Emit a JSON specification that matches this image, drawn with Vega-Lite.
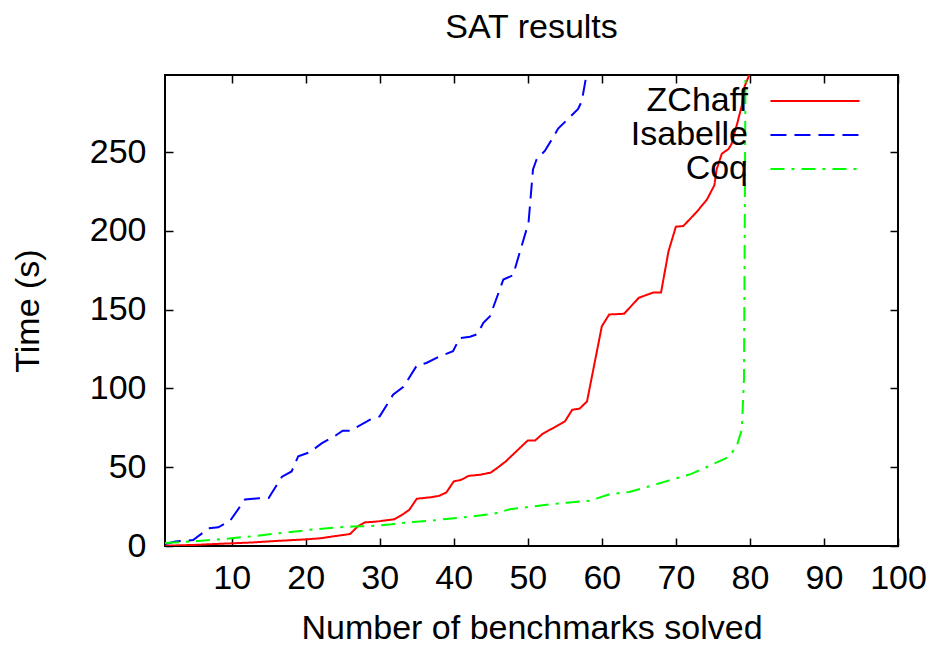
{
  "$schema": "https://vega.github.io/schema/vega-lite/v6.json",
  "width": 733,
  "height": 471,
  "autosize": "none",
  "padding": {"left": 165, "top": 75, "right": 36, "bottom": 99},
  "background": "white",
  "title": {"text": "SAT results", "fontSize": 34, "font": "Liberation Sans", "fontWeight": "normal", "color": "black", "offset": 21, "anchor": "middle"},
  "config": {
    "view": {"stroke": "black", "strokeWidth": 2},
    "axis": {"grid": false, "domain": false, "tickColor": "black", "tickWidth": 1.5, "labelFont": "Liberation Sans", "labelFontSize": 34, "labelColor": "black", "titleFont": "Liberation Sans", "titleFontSize": 34, "titleFontWeight": "normal", "titleColor": "black"}
  },
  "data": {"values": [
    {"solver": "ZChaff", "n": 1, "t": 0.2},
    {"solver": "ZChaff", "n": 5, "t": 0.7},
    {"solver": "ZChaff", "n": 10, "t": 1.7},
    {"solver": "ZChaff", "n": 13, "t": 2.3},
    {"solver": "ZChaff", "n": 16, "t": 3.2},
    {"solver": "ZChaff", "n": 20, "t": 4.2},
    {"solver": "ZChaff", "n": 22, "t": 4.9},
    {"solver": "ZChaff", "n": 24, "t": 6.3},
    {"solver": "ZChaff", "n": 26, "t": 7.6},
    {"solver": "ZChaff", "n": 27, "t": 12.3},
    {"solver": "ZChaff", "n": 28, "t": 15},
    {"solver": "ZChaff", "n": 29.6, "t": 15.5},
    {"solver": "ZChaff", "n": 32, "t": 17},
    {"solver": "ZChaff", "n": 33, "t": 19.7},
    {"solver": "ZChaff", "n": 34, "t": 23},
    {"solver": "ZChaff", "n": 35, "t": 30},
    {"solver": "ZChaff", "n": 37, "t": 31},
    {"solver": "ZChaff", "n": 38, "t": 31.8},
    {"solver": "ZChaff", "n": 39, "t": 34},
    {"solver": "ZChaff", "n": 40, "t": 41},
    {"solver": "ZChaff", "n": 41, "t": 42},
    {"solver": "ZChaff", "n": 42, "t": 44.5},
    {"solver": "ZChaff", "n": 43.5, "t": 45.2},
    {"solver": "ZChaff", "n": 45, "t": 46.6},
    {"solver": "ZChaff", "n": 46, "t": 50},
    {"solver": "ZChaff", "n": 47, "t": 53.6},
    {"solver": "ZChaff", "n": 50, "t": 67},
    {"solver": "ZChaff", "n": 51, "t": 67},
    {"solver": "ZChaff", "n": 52, "t": 71.2},
    {"solver": "ZChaff", "n": 53, "t": 73.8},
    {"solver": "ZChaff", "n": 55, "t": 79},
    {"solver": "ZChaff", "n": 56, "t": 86.5},
    {"solver": "ZChaff", "n": 57, "t": 87.2},
    {"solver": "ZChaff", "n": 58, "t": 91.8},
    {"solver": "ZChaff", "n": 60, "t": 139.5},
    {"solver": "ZChaff", "n": 61, "t": 147},
    {"solver": "ZChaff", "n": 63, "t": 147.4},
    {"solver": "ZChaff", "n": 65, "t": 157.6},
    {"solver": "ZChaff", "n": 67, "t": 161},
    {"solver": "ZChaff", "n": 68, "t": 161},
    {"solver": "ZChaff", "n": 69, "t": 187},
    {"solver": "ZChaff", "n": 70, "t": 202.7},
    {"solver": "ZChaff", "n": 71, "t": 203.1},
    {"solver": "ZChaff", "n": 72.8, "t": 212},
    {"solver": "ZChaff", "n": 74.2, "t": 220},
    {"solver": "ZChaff", "n": 75.2, "t": 229},
    {"solver": "ZChaff", "n": 75.5, "t": 239},
    {"solver": "ZChaff", "n": 76.2, "t": 249},
    {"solver": "ZChaff", "n": 77.1, "t": 252},
    {"solver": "ZChaff", "n": 77.5, "t": 255},
    {"solver": "ZChaff", "n": 78.2, "t": 266.7},
    {"solver": "ZChaff", "n": 78.9, "t": 279.5},
    {"solver": "ZChaff", "n": 79.3, "t": 292},
    {"solver": "ZChaff", "n": 80, "t": 300},
    {"solver": "Isabelle", "n": 1, "t": 1.3},
    {"solver": "Isabelle", "n": 2.4, "t": 2.8},
    {"solver": "Isabelle", "n": 4.8, "t": 3.8},
    {"solver": "Isabelle", "n": 6.9, "t": 11.2},
    {"solver": "Isabelle", "n": 8.2, "t": 11.9},
    {"solver": "Isabelle", "n": 9.8, "t": 16.1},
    {"solver": "Isabelle", "n": 11.8, "t": 29.5},
    {"solver": "Isabelle", "n": 13.7, "t": 30.3},
    {"solver": "Isabelle", "n": 15, "t": 30.5},
    {"solver": "Isabelle", "n": 16.8, "t": 44},
    {"solver": "Isabelle", "n": 18.1, "t": 47.3},
    {"solver": "Isabelle", "n": 19, "t": 57},
    {"solver": "Isabelle", "n": 20.5, "t": 59.4},
    {"solver": "Isabelle", "n": 22.2, "t": 65.3},
    {"solver": "Isabelle", "n": 24, "t": 70},
    {"solver": "Isabelle", "n": 25, "t": 73.2},
    {"solver": "Isabelle", "n": 26, "t": 73.2},
    {"solver": "Isabelle", "n": 28.7, "t": 80.2},
    {"solver": "Isabelle", "n": 30, "t": 82.3},
    {"solver": "Isabelle", "n": 31.8, "t": 96},
    {"solver": "Isabelle", "n": 33.2, "t": 101},
    {"solver": "Isabelle", "n": 35, "t": 114.5},
    {"solver": "Isabelle", "n": 36.3, "t": 116.2},
    {"solver": "Isabelle", "n": 37.9, "t": 120},
    {"solver": "Isabelle", "n": 39.9, "t": 123.6},
    {"solver": "Isabelle", "n": 40.8, "t": 132},
    {"solver": "Isabelle", "n": 42.2, "t": 132.8},
    {"solver": "Isabelle", "n": 43.2, "t": 134.5},
    {"solver": "Isabelle", "n": 44, "t": 141.7},
    {"solver": "Isabelle", "n": 44.9, "t": 145.9},
    {"solver": "Isabelle", "n": 46.7, "t": 169.2},
    {"solver": "Isabelle", "n": 48, "t": 171.8},
    {"solver": "Isabelle", "n": 50.1, "t": 205.3},
    {"solver": "Isabelle", "n": 50.7, "t": 239},
    {"solver": "Isabelle", "n": 51.2, "t": 245.5},
    {"solver": "Isabelle", "n": 52.3, "t": 250.8},
    {"solver": "Isabelle", "n": 53.4, "t": 259.3},
    {"solver": "Isabelle", "n": 54.1, "t": 265},
    {"solver": "Isabelle", "n": 55.4, "t": 271},
    {"solver": "Isabelle", "n": 56.8, "t": 277.4},
    {"solver": "Isabelle", "n": 57.3, "t": 282.6},
    {"solver": "Isabelle", "n": 57.9, "t": 298.5},
    {"solver": "Isabelle", "n": 58.1, "t": 305},
    {"solver": "Coq", "n": 1, "t": 1.9},
    {"solver": "Coq", "n": 5.5, "t": 3.2},
    {"solver": "Coq", "n": 10, "t": 4.9},
    {"solver": "Coq", "n": 13.2, "t": 6.4},
    {"solver": "Coq", "n": 17.2, "t": 8.5},
    {"solver": "Coq", "n": 20.4, "t": 10.2},
    {"solver": "Coq", "n": 24, "t": 11.7},
    {"solver": "Coq", "n": 26.2, "t": 12.3},
    {"solver": "Coq", "n": 28.9, "t": 12.7},
    {"solver": "Coq", "n": 31.6, "t": 13.8},
    {"solver": "Coq", "n": 34.5, "t": 15.3},
    {"solver": "Coq", "n": 37, "t": 16.1},
    {"solver": "Coq", "n": 39, "t": 17.2},
    {"solver": "Coq", "n": 42.2, "t": 18.6},
    {"solver": "Coq", "n": 45.3, "t": 20.4},
    {"solver": "Coq", "n": 47.6, "t": 23.3},
    {"solver": "Coq", "n": 49.8, "t": 24.6},
    {"solver": "Coq", "n": 53, "t": 26.5},
    {"solver": "Coq", "n": 55.3, "t": 27.5},
    {"solver": "Coq", "n": 58.4, "t": 28.8},
    {"solver": "Coq", "n": 61.1, "t": 32.9},
    {"solver": "Coq", "n": 63.7, "t": 34.3},
    {"solver": "Coq", "n": 66.5, "t": 38},
    {"solver": "Coq", "n": 69, "t": 41.5},
    {"solver": "Coq", "n": 72.1, "t": 45.8},
    {"solver": "Coq", "n": 74.1, "t": 50},
    {"solver": "Coq", "n": 77.1, "t": 56.4},
    {"solver": "Coq", "n": 78.2, "t": 63.2},
    {"solver": "Coq", "n": 78.9, "t": 73.8},
    {"solver": "Coq", "n": 79.2, "t": 106},
    {"solver": "Coq", "n": 79.4, "t": 299}
  ]},
  "layer": [
    {
      "mark": {"type": "line", "strokeWidth": 2, "clip": true},
      "encoding": {
        "x": {"field": "n", "type": "quantitative", "scale": {"domain": [1, 100], "nice": false, "zero": false},
              "axis": {"orient": "bottom", "values": [10, 20, 30, 40, 50, 60, 70, 80, 90, 100], "tickSize": -8, "labelPadding": 23, "title": "Number of benchmarks solved", "titlePadding": 16, "labelFlush": false, "labelOverlap": false}},
        "y": {"field": "t", "type": "quantitative", "scale": {"domain": [0, 299], "nice": false},
              "axis": {"orient": "left", "values": [0, 50, 100, 150, 200, 250], "tickSize": -8, "labelPadding": 27, "title": "Time (s)", "titlePadding": 44, "labelFlush": false, "labelOverlap": false}},
        "color": {"field": "solver", "type": "nominal",
                  "scale": {"domain": ["ZChaff", "Isabelle", "Coq"], "range": ["#ff0000", "#0000ff", "#00ff00"]},
                  "legend": {"orient": "none", "legendX": 633, "legendY": 9, "direction": "vertical", "title": null,
                             "symbolType": "M-4.5,0H4.5", "symbolSize": 392, "symbolStrokeWidth": 2, "symbolFillColor": "transparent",
                             "labelFont": "Liberation Sans", "labelFontSize": 34, "labelColor": "black", "labelAlign": "right",
                             "labelOffset": -84, "labelLimit": 400, "rowPadding": 0}},
        "strokeDash": {"field": "solver", "type": "nominal",
                       "scale": {"domain": ["ZChaff", "Isabelle", "Coq"], "range": [[1, 0], [16, 8], [14, 7, 3, 7]]},
                       "legend": {"orient": "none", "legendX": 633, "legendY": 9, "direction": "vertical", "title": null,
                             "symbolType": "M-4.5,0H4.5", "symbolSize": 392, "symbolStrokeWidth": 2, "symbolFillColor": "transparent",
                             "labelFont": "Liberation Sans", "labelFontSize": 34, "labelColor": "black", "labelAlign": "right",
                             "labelOffset": -84, "labelLimit": 400, "rowPadding": 0}}
      }
    },
    {
      "mark": {"type": "line", "opacity": 0},
      "encoding": {
        "x": {"field": "n", "type": "quantitative", "axis": {"orient": "top", "values": [10, 20, 30, 40, 50, 60, 70, 80, 90, 100], "tickSize": -8, "labels": false, "title": null}},
        "y": {"field": "t", "type": "quantitative", "axis": {"orient": "right", "values": [0, 50, 100, 150, 200, 250], "tickSize": -8, "labels": false, "title": null}},
        "detail": {"field": "solver"}
      }
    }
  ],
  "resolve": {"axis": {"x": "independent", "y": "independent"}}
}
